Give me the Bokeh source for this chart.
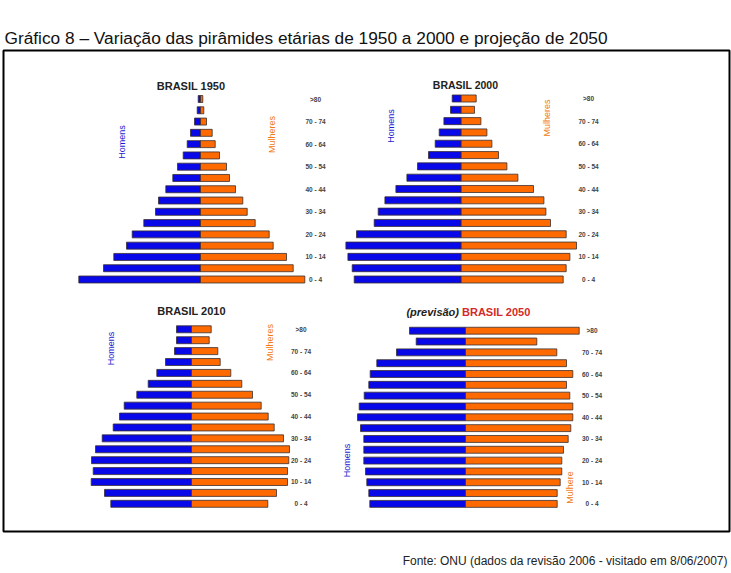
from bokeh.plotting import figure
from bokeh.models import Range1d, Label, BoxAnnotation, ColumnDataSource
from bokeh.embed import file_html
from bokeh.resources import INLINE
from bokeh.core.properties import value
import math

# ---------------- data (relative bar lengths) ----------------
ages = ["0 - 4", "5 - 9", "10 - 14", "15 - 19", "20 - 24", "25 - 29", "30 - 34", "35 - 39",
        "40 - 44", "45 - 49", "50 - 54", "55 - 59", "60 - 64", "65 - 69", "70 - 74", "75 - 79", ">80"]
tick_labels = ["0 - 4", "10 - 14", "20 - 24", "30 - 34", "40 - 44", "50 - 54", "60 - 64", "70 - 74", ">80"]

men_1950 = [121.7, 97, 86.7, 74, 68.3, 56.7, 45, 42, 34.7, 27.7, 23, 17.3, 13.3, 10, 6, 3.3, 2.3]
women_1950 = [104.3, 92.7, 86, 72.7, 68.7, 54.7, 46.7, 42.3, 35, 29, 26, 19, 14.7, 11.7, 6, 3.3, 2.3]

men_2000 = [107, 109, 113.3, 115.3, 104.7, 87, 83, 76.3, 65.3, 54.3, 43.7, 32.7, 26, 22, 17.3, 10.7, 9]
women_2000 = [102, 105, 108.7, 115.3, 105, 89.3, 84.7, 82.7, 72.3, 56.7, 45.7, 37.3, 30.7, 25.7, 19.7, 13.3, 15]

men_2010 = [80.7, 87, 100.3, 98.3, 100, 96, 89.3, 78.3, 72, 67.3, 54.7, 43.3, 34.7, 26, 17, 15, 15]
women_2010 = [76.3, 85, 96, 96, 97.3, 98, 92, 82.7, 76.7, 69.7, 61, 50.3, 39.3, 28.7, 26.3, 17.7, 19.7]

men_2050 = [95.7, 96.7, 98.7, 100, 101.7, 101.7, 101.7, 105, 108, 106.3, 101.3, 96.7, 95.3, 88.7, 69, 49.3, 56]
women_2050 = [91.7, 91.7, 94.7, 96.3, 96.3, 98, 102.7, 105.3, 107.3, 107.3, 104.3, 101, 107.3, 101, 91.3, 71.3, 113.7]

panel_titles = ["BRASIL 1950", "BRASIL 2000", "BRASIL 2010", "BRASIL 2050"]
title = "Gráfico 8 – Variação das pirâmides etárias de 1950 a 2000 e projeção de 2050"
source_txt = "Fonte: ONU (dados da revisão 2006 - visitado em 8/06/2007)"

# ---------------- layout ----------------
W, H = 731, 573
BLUE = "#0808e8"
ORANGE = "#ff6a00"
EDGE = "#3a3030"
ARIAL = "Liberation Sans"

p = figure(width=W, height=H, x_range=Range1d(0, W), y_range=Range1d(0, H),
           output_backend="svg", toolbar_location=None, min_border=0,
           x_axis_type=None, y_axis_type=None, outline_line_color=None,
           background_fill_color="white", border_fill_color="white")

# panels: (name, men, women, center_px, y_index0_px, y_index16_px, label_x_px, bar_h)
panels = [
    ("p1950", men_1950, women_1950, 200.0, 279.0, 98.5, 315.0, 0.62),
    ("p2000", men_2000, women_2000, 460.7, 279.0, 98.0, 588.0, 0.62),
    ("p2010", men_2010, women_2010, 191.0, 503.3, 328.8, 300.5, 0.64),
    ("p2050", men_2050, women_2050, 465.0, 503.4, 330.2, 591.5, 0.64),
]

for name, men, women, cx, y0, y16, lx, bh in panels:
    spacing = (y0 - y16) / 16.0
    p.extra_x_ranges[name] = Range1d(start=-cx, end=W - cx)
    p.extra_y_ranges[name] = Range1d(start=-(H - y0) / spacing, end=y0 / spacing)
    src = ColumnDataSource(dict(idx=list(range(len(ages))), age=ages,
                                men=[-v for v in men], women=women))
    p.hbar(y="idx", left="men", right=0, height=bh, source=src,
           fill_color=BLUE, line_color=EDGE, line_width=0.8,
           x_range_name=name, y_range_name=name)
    p.hbar(y="idx", left=0, right="women", height=bh, source=src,
           fill_color=ORANGE, line_color=EDGE, line_width=0.8,
           x_range_name=name, y_range_name=name)
    tsrc = ColumnDataSource(dict(y=[ages.index(t) for t in tick_labels], t=tick_labels,
                                 x=[lx - cx] * len(tick_labels)))
    p.text(x="x", y="y", text="t", source=tsrc, text_font=value(ARIAL),
           text_font_size="6.5px", text_font_style="bold", text_color="#444444",
           text_align="center", text_baseline="middle",
           x_range_name=name, y_range_name=name)


def lab(text, x, y, size, color="black", font=ARIAL, style="normal", align="center",
        baseline="alphabetic", angle=0.0):
    p.add_layout(Label(x=x, y=H - y, x_units="screen", y_units="screen", text=text,
                       text_font=font, text_font_size=size, text_font_style=style,
                       text_color=color, text_align=align, text_baseline=baseline,
                       angle=angle))

# main title and source
lab(title, 4, 37, "17.3px", color="#111111", align="left")
lab(source_txt, 727, 560, "12px", color="#222222", align="right")

# frame box
p.add_layout(BoxAnnotation(left=3, right=729, top=H - 50, bottom=H - 531,
                           left_units="screen", right_units="screen",
                           top_units="screen", bottom_units="screen",
                           fill_alpha=0, line_color="black", line_alpha=1.0,
                           line_width=2))

# panel titles
lab(panel_titles[0], 190.5, 85.7, "11px", color="#222222", style="bold")
lab(panel_titles[1], 465, 84.7, "10.5px", color="#222222", style="bold")
lab(panel_titles[2], 191, 310, "11px", color="#222222", style="bold")
lab("(previsão)", 458.5, 311, "11px", color="#222222", style="bold italic", align="right")
lab(panel_titles[3], 461.5, 311, "11px", color="#d42a2a", style="bold", align="left")

# Homens / Mulheres
V = math.pi / 2
lab("Homens", 121.7, 141.5, "9px", color="#1a1ad0", baseline="middle", angle=V)
lab("Mulheres", 271.7, 134, "9px", color="#f07a10", baseline="middle", angle=V)
lab("Homens", 390, 125.5, "9px", color="#1a1ad0", baseline="middle", angle=V)
lab("Mulheres", 546.7, 117.5, "9px", color="#f07a10", baseline="middle", angle=V)
lab("Homens", 110.7, 348, "9px", color="#1a1ad0", baseline="middle", angle=V)
lab("Mulheres", 269.3, 342, "9px", color="#f07a10", baseline="middle", angle=V)
lab("Homens", 346, 460, "9px", color="#1a1ad0", baseline="middle", angle=V)
lab("Mulhere", 569.5, 487, "9px", color="#f07a10", baseline="middle", angle=V)

open("out.html", "w").write(file_html(p, INLINE))
